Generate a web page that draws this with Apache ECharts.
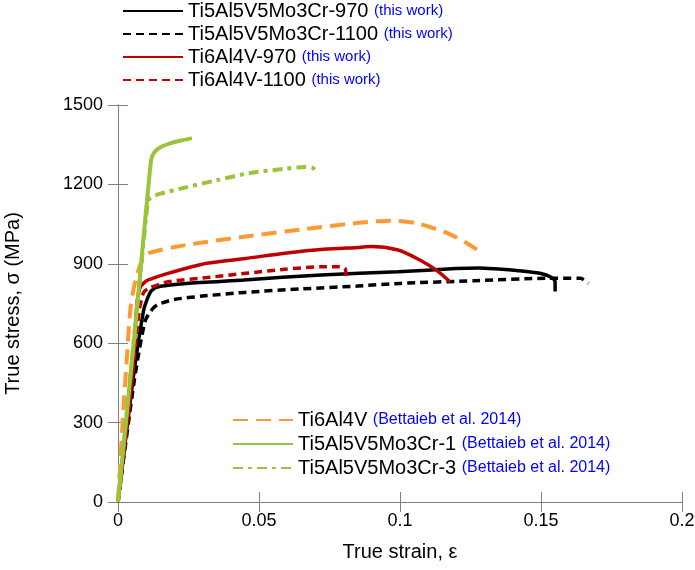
<!DOCTYPE html>
<html>
<head>
<meta charset="utf-8">
<script src="https://cdn.jsdelivr.net/npm/echarts@6/dist/echarts.min.js"></script>
<style>
  html, body { margin: 0; padding: 0; background: #fff; }
  #stressStrain { width: 695px; height: 570px; }
</style>
</head>
<body>
<div id="stressStrain"></div>
<script>
var ti55531_970_strain = [0, 0.0053, 0.0090, 0.0105, 0.0120, 0.0150, 0.0242, 0.0447, 0.0720, 0.0993, 0.1198, 0.1280, 0.1335, 0.1420, 0.1496, 0.1538, 0.1550, 0.1550];
var ti55531_970_stress = [0, 461, 720, 770, 800, 815, 826, 839, 858, 870, 882, 884, 881, 874, 864, 848, 832, 795];

var ti55531_1100_strain = [0, 0.0058, 0.0095, 0.0115, 0.0140, 0.0200, 0.0300, 0.0450, 0.0650, 0.0850, 0.1000, 0.1266, 0.1520, 0.1640, 0.1668];
var ti55531_1100_stress = [0, 461, 680, 720, 745, 765, 778, 792, 805, 816, 826, 836, 845, 845, 826];

var ti64_970_strain = [0, 0.0049, 0.0068, 0.0078, 0.0092, 0.0108, 0.0177, 0.0315, 0.0452, 0.0591, 0.0729, 0.0856, 0.0897, 0.0993, 0.1060, 0.1129, 0.1177];
var ti64_970_stress = [0, 461, 760, 810, 828, 839, 864, 902, 920, 940, 955, 962, 965, 952, 920, 876, 832];

var ti64_1100_strain = [0, 0.0045, 0.0075, 0.0090, 0.0108, 0.0177, 0.0315, 0.0452, 0.0591, 0.0720, 0.0785, 0.0805, 0.0810];
var ti64_1100_stress = [0, 420, 720, 790, 807, 832, 848, 864, 879, 889, 889, 883, 845];

var ti64_lit_strain = [0, 0.0018, 0.0030, 0.0045, 0.0065, 0.0085, 0.0108, 0.0242, 0.0447, 0.0652, 0.0856, 0.0966, 0.1060, 0.1170, 0.1239, 0.1293];
var ti64_lit_stress = [0, 330, 520, 740, 850, 910, 940, 971, 1002, 1030, 1055, 1063, 1053, 1015, 977, 940];

var ti55531_lit1_strain = [0, 0.0060, 0.0117, 0.0128, 0.0150, 0.0185, 0.0220, 0.0262];
var ti55531_lit1_stress = [0, 648, 1290, 1320, 1340, 1355, 1365, 1375];

var ti55531_lit3_strain = [0, 0.0105, 0.0115, 0.0150, 0.0230, 0.0351, 0.0468, 0.0585, 0.0663, 0.0691, 0.0706];
var ti55531_lit3_stress = [0, 1130, 1150, 1165, 1186, 1216, 1243, 1258, 1266, 1262, 1243];

var xTicks = [0, 0.05, 0.1, 0.15, 0.2];
var yTicks = [0, 300, 600, 900, 1200, 1500];

var thisWork = ['Ti5Al5V5Mo3Cr-970', 'Ti5Al5V5Mo3Cr-1100', 'Ti6Al4V-970', 'Ti6Al4V-1100'];
var literature = ['Ti6Al4V', 'Ti5Al5V5Mo3Cr-1', 'Ti5Al5V5Mo3Cr-3'];

function pairs(xs, ys) {
    var out = [];
    for (var i = 0; i < xs.length; i++) out.push([xs[i], ys[i]]);
    return out;
}

var font = 'Liberation Sans, Arial, sans-serif';
var axisGray = '#808080';
var blue = '#0000ff';

function curve(name, xs, ys, color, width, dash) {
    return {
        name: name,
        type: 'line',
        data: pairs(xs, ys),
        symbol: 'none',
        smooth: 0.25,
        lineStyle: {color: color, width: width, type: dash, cap: 'butt'},
        itemStyle: {color: color}
    };
}

function legendText(refSize) {
    return {
        fontSize: 20, color: '#000', fontFamily: font, lineHeight: 20,
        rich: {s: {fontSize: refSize, color: blue, fontFamily: font}}
    };
}

var dom = document.getElementById('stressStrain');
var myChart = echarts.init(dom);
var option = {
    animation: false,
    backgroundColor: '#fff',
    textStyle: {fontFamily: font},
    grid: {left: 118, right: 13, top: 105, bottom: 68, outerBoundsMode: 'none'},
    legend: [
        {
            data: thisWork,
            orient: 'vertical',
            left: 122,
            top: 1,
            padding: 0,
            itemWidth: 60,
            itemHeight: 14,
            itemGap: 3,
            itemStyle: {opacity: 0},
            textStyle: legendText(15),
            formatter: function (name) { return name + ' {s|(this work)}'; }
        },
        {
            data: literature,
            orient: 'vertical',
            left: 232,
            top: 410,
            padding: 0,
            itemWidth: 60,
            itemHeight: 14,
            itemGap: 4,
            itemStyle: {opacity: 0},
            textStyle: legendText(16),
            formatter: function (name) { return name + ' {s|(Bettaieb et al. 2014)}'; }
        }
    ],
    xAxis: [
        {
            type: 'value',
            min: xTicks[0],
            max: xTicks[xTicks.length - 1],
            interval: 0.05,
            name: 'True strain, \u03b5',
            nameLocation: 'middle',
            nameGap: 40,
            nameTextStyle: {fontSize: 20, color: '#000', fontFamily: font},
            axisLine: {lineStyle: {color: axisGray, width: 1}},
            axisTick: {inside: true, length: 10, lineStyle: {color: axisGray}},
            axisLabel: {fontSize: 18, color: '#000', margin: 10, fontFamily: font},
            splitLine: {show: false}
        },
        {
            type: 'value',
            position: 'top',
            min: xTicks[0],
            max: xTicks[xTicks.length - 1],
            interval: 0.05,
            axisLine: {show: true, lineStyle: {color: axisGray, width: 1}},
            axisTick: {inside: true, length: 10, lineStyle: {color: axisGray}},
            axisLabel: {show: false},
            splitLine: {show: false}
        }
    ],
    yAxis: [
        {
            type: 'value',
            min: yTicks[0],
            max: yTicks[yTicks.length - 1],
            interval: 300,
            name: 'True stress, \u03c3 (MPa)',
            nameLocation: 'middle',
            nameGap: 95,
            nameTextStyle: {fontSize: 20, color: '#000', fontFamily: font},
            axisLine: {show: true, lineStyle: {color: axisGray, width: 1}},
            axisTick: {show: true, inside: true, length: 10, lineStyle: {color: axisGray}},
            axisLabel: {
                fontSize: 18, color: '#000', margin: 15, fontFamily: font,
                formatter: function (v) { return String(v); }
            },
            splitLine: {show: false}
        },
        {
            type: 'value',
            position: 'right',
            min: yTicks[0],
            max: yTicks[yTicks.length - 1],
            interval: 300,
            axisLine: {show: true, lineStyle: {color: axisGray, width: 1}},
            axisTick: {show: true, inside: true, length: 10, lineStyle: {color: axisGray}},
            axisLabel: {show: false},
            splitLine: {show: false}
        }
    ],
    series: [
        curve('Ti5Al5V5Mo3Cr-1100', ti55531_1100_strain, ti55531_1100_stress, '#000000', 3.5, [8, 5]),
        curve('Ti5Al5V5Mo3Cr-970', ti55531_970_strain, ti55531_970_stress, '#000000', 3.5, 'solid'),
        curve('Ti6Al4V-1100', ti64_1100_strain, ti64_1100_stress, '#c00000', 3.5, [8, 5]),
        curve('Ti6Al4V-970', ti64_970_strain, ti64_970_stress, '#c00000', 3.5, 'solid'),
        curve('Ti6Al4V', ti64_lit_strain, ti64_lit_stress, '#ff9933', 4, [15, 8]),
        curve('Ti5Al5V5Mo3Cr-3', ti55531_lit3_strain, ti55531_lit3_stress, '#9bc43a', 4, [10, 5, 4, 5]),
        curve('Ti5Al5V5Mo3Cr-1', ti55531_lit1_strain, ti55531_lit1_stress, '#9bc43a', 4, 'solid')
    ]
};
myChart.setOption(option, true);

window.onresize = function () {
    myChart.resize();
};
</script>
</body>
</html>
